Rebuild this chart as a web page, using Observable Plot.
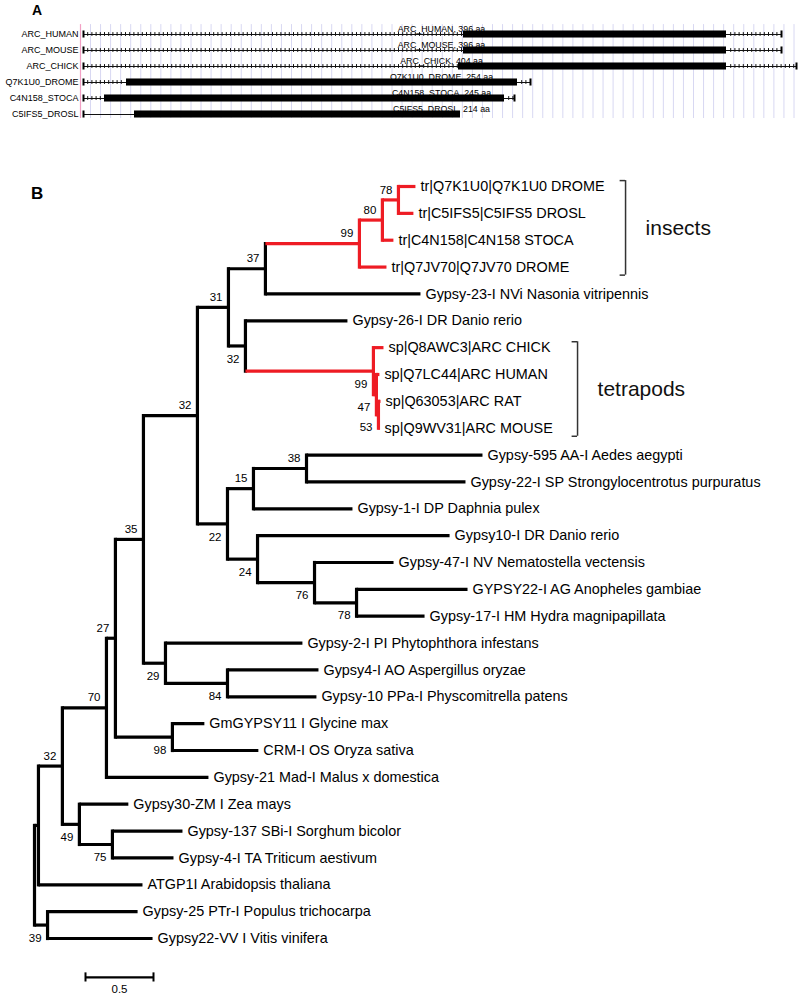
<!DOCTYPE html>
<html><head><meta charset="utf-8">
<script src="https://cdn.jsdelivr.net/npm/d3@7"></script>
<script src="https://cdn.jsdelivr.net/npm/@observablehq/plot@0.6"></script>
<style>
body{margin:0;background:#fff;}
#fig{position:relative;width:800px;height:994px;font-family:'Liberation Sans',Arial,sans-serif;background:#fff;}
#fig svg{display:block;}
.plabel{position:absolute;font-weight:bold;line-height:1;color:#000;}
</style></head><body>
<div id="fig">
<div class="plabel" style="left:32px;top:3px;font-size:14px">A</div>
<div class="plabel" style="left:31px;top:185px;font-size:17px">B</div>
</div>
<script>
// ---------- Panel A data (alignment columns) ----------
const trackNames = ["ARC_HUMAN","ARC_MOUSE","ARC_CHICK","Q7K1U0_DROME","C4N158_STOCA","C5IFS5_DROSL"];
const proteinLengths = [396,396,404,254,245,214];
const featStart = [3,3,3,3,3,3];
const cdsStart  = [383,383,378,46,24,54];
const cdsEnd    = [646,646,646,437,424,380];
const featEnd   = [701,701,716,450,434,380];
const leftHatched = [true,true,true,true,true,false];

// ---------- Panel B data (tree) ----------
const nodeId = ["root","n38","n32b","n70","n27","n35","n32a","n31","n37","n99i","n80","n78","Q7K1U0","C5IFS5","C4N158","Q7JV70","Nasonia","n32c","Danio26","n99t","CHICK","n47","HUMAN","n53","RAT","MOUSE","n22","n15","n38b","Aedes","Strongylo","Daphnia","n24","Danio10","n76","Nematostella","n78b","Anopheles","Hydra","n29","Phytophthora","n84","Aspergillus","Physcomitrella","n98","Glycine","Oryza","Malus","n49","Zea","n75","Sorghum","Triticum","ATGP1I","n39","Populus","Vitis"];
const nodeParent = [null,"root","n38","n32b","n70","n27","n35","n32a","n31","n37","n99i","n80","n78","n78","n80","n99i","n37","n31","n32c","n32c","n99t","n99t","n47","n47","n53","n53","n32a","n22","n15","n38b","n38b","n15","n22","n24","n24","n76","n76","n78b","n78b","n35","n29","n29","n84","n84","n27","n98","n98","n70","n32b","n49","n49","n75","n75","n38","root","n39","n39"];
const branchLength = [0,0.029,0.176,0.324,0.066,0.206,0.397,0.228,0.272,0.691,0.169,0.118,0.125,0.110,0.081,0.199,1.140,0.125,0.750,0.941,0.074,0.022,0.022,0.015,0.015,0.008,0.221,0.191,0.390,1.294,1.169,0.728,0.221,1.412,0.419,0.581,0.309,0.816,0.500,0.162,1.007,0.456,0.669,0.654,0.419,0.235,0.632,0.750,0.125,0.360,0.243,0.515,0.449,0.765,0.096,0.662,0.772];
const bootstrap = [null,null,32,70,27,35,32,31,37,99,80,78,null,null,null,null,null,32,null,99,null,47,null,53,null,null,22,15,38,null,null,null,24,null,76,null,78,null,null,29,null,84,null,null,98,null,null,null,49,null,75,null,null,null,39,null,null];
const leafLabels = {
  Q7K1U0:"tr|Q7K1U0|Q7K1U0 DROME", C5IFS5:"tr|C5IFS5|C5IFS5 DROSL", C4N158:"tr|C4N158|C4N158 STOCA", Q7JV70:"tr|Q7JV70|Q7JV70 DROME",
  Nasonia:"Gypsy-23-I NVi Nasonia vitripennis", Danio26:"Gypsy-26-I DR Danio rerio",
  CHICK:"sp|Q8AWC3|ARC CHICK", HUMAN:"sp|Q7LC44|ARC HUMAN", RAT:"sp|Q63053|ARC RAT", MOUSE:"sp|Q9WV31|ARC MOUSE",
  Aedes:"Gypsy-595 AA-I Aedes aegypti", Strongylo:"Gypsy-22-I SP Strongylocentrotus purpuratus", Daphnia:"Gypsy-1-I DP Daphnia pulex",
  Danio10:"Gypsy10-I DR Danio rerio", Nematostella:"Gypsy-47-I NV Nematostella vectensis", Anopheles:"GYPSY22-I AG Anopheles gambiae",
  Hydra:"Gypsy-17-I HM Hydra magnipapillata", Phytophthora:"Gypsy-2-I PI Phytophthora infestans", Aspergillus:"Gypsy4-I AO Aspergillus oryzae",
  Physcomitrella:"Gypsy-10 PPa-I Physcomitrella patens", Glycine:"GmGYPSY11 I Glycine max", Oryza:"CRM-I OS Oryza sativa",
  Malus:"Gypsy-21 Mad-I Malus x domestica", Zea:"Gypsy30-ZM I Zea mays", Sorghum:"Gypsy-137 SBi-I Sorghum bicolor",
  Triticum:"Gypsy-4-I TA Triticum aestivum", ATGP1I:"ATGP1I Arabidopsis thaliana", Populus:"Gypsy-25 PTr-I Populus trichocarpa",
  Vitis:"Gypsy22-VV I Vitis vinifera"
};
const highlightedClades = ["n99i","n99t"];
const cladeNames = ["insects","tetrapods"];
const cladeFirstLeaf = ["Q7K1U0","CHICK"];
const cladeLastLeaf = ["Q7JV70","MOUSE"];
const scaleBarLength = 0.5;

const FONT = "'Liberation Sans', Arial, sans-serif";
const RED = "#ee1c24";

// ---------- Panel A ----------
const tracks = trackNames.map((name, i) => ({
  i, name, len: proteinLengths[i], s: featStart[i], cs: cdsStart[i], ce: cdsEnd[i], e: featEnd[i], hatch: leftHatched[i],
  label: `${name}, ${proteinLengths[i]} aa`
}));
const segments = [];
const hatches = [];
for (const t of tracks) {
  segments.push({i: t.i, a: t.s, b: t.cs});
  if (t.hatch) for (const x of d3.range(t.s + 4.2, t.cs - 1, 4.2)) hatches.push({i: t.i, x});
  if (t.e > t.ce) {
    segments.push({i: t.i, a: t.ce, b: t.e});
    for (const x of d3.range(t.ce + 4.2, t.e - 1, 4.2)) hatches.push({i: t.i, x});
  }
}
const endTicks = [];
for (const t of tracks) {
  endTicks.push({i: t.i, x: t.s});
  if (t.e > t.ce) endTicks.push({i: t.i, x: t.e});
}
const gridCols = d3.range(10, 717, 10.05);

const panelA = Plot.plot({
  width: 800, height: 125,
  marginLeft: 80, marginRight: 0, marginTop: 26, marginBottom: 3,
  x: {domain: [0, 720], axis: null},
  y: {domain: [-0.5, 5.5], reverse: true, axis: null},
  style: {fontFamily: FONT, background: "white", color: "#000", overflow: "visible"},
  marks: [
    Plot.ruleX(gridCols, {x: d => d, y1: -0.62, y2: 5.25, stroke: "#d8d8f2", strokeWidth: 1, strokeOpacity: 1}),
    Plot.ruleX([0], {x: d => d, y1: -0.62, y2: 5.25, stroke: "#f2a0c4", strokeWidth: 1.2, strokeOpacity: 1}),
    Plot.ruleY(segments, {y: "i", x1: "a", x2: "b", stroke: "#111", strokeWidth: 1}),
    Plot.ruleX(hatches, {x: "x", y1: d => d.i - 0.12, y2: d => d.i + 0.12, stroke: "#111", strokeWidth: 1}),
    Plot.ruleX(endTicks, {x: "x", y1: d => d.i - 0.22, y2: d => d.i + 0.22, stroke: "#000", strokeWidth: 2}),
    Plot.rect(tracks, {x1: "cs", x2: "ce", y1: d => d.i - 0.22, y2: d => d.i + 0.22, fill: "#000"}),
    Plot.text(tracks, {y: "i", text: "label", frameAnchor: "middle", dx: 1, dy: -5, fontSize: 8.8, fill: "#000"}),
    Plot.text(tracks, {y: "i", text: "name", frameAnchor: "left", textAnchor: "end", dx: -2, fontSize: 9, fill: "#000"})
  ]
});

// ---------- Panel B: tree layout ----------
const nodes = nodeId.map((id, k) => ({id, parentId: nodeParent[k], bl: branchLength[k], boot: bootstrap[k], children: []}));
const byId = new Map(nodes.map(n => [n.id, n]));
for (const n of nodes) if (n.parentId) { n.parent = byId.get(n.parentId); n.parent.children.push(n); }
const root = nodes.find(n => !n.parentId);
let leafCounter = 0;
(function layout(n, depth, red) {
  n.x = depth + n.bl;
  n.red = red || highlightedClades.includes(n.id);
  if (n.children.length === 0) { n.y = leafCounter++; n.label = leafLabels[n.id]; }
  else {
    for (const c of n.children) layout(c, n.x, n.red);
    n.y = (n.children[0].y + n.children[n.children.length - 1].y) / 2;
    n.yMin = n.children[0].y; n.yMax = n.children[n.children.length - 1].y;
  }
})(root, 0, false);
for (const n of nodes) n.upper = n.parent ? n.parent.children[0] === n : true;

const nonRoot = nodes.filter(n => n.parent);
const internal = nodes.filter(n => n.children.length);
const leaves = nodes.filter(n => !n.children.length);
const booted = internal.filter(n => n.boot != null);

const clades = cladeNames.map((name, k) => ({name, y1: byId.get(cladeFirstLeaf[k]).y, y2: byId.get(cladeLastLeaf[k]).y}));
const bracketX = {insects: 4.346, tetrapods: 3.993};
const tickLen = 0.04;
const barY = 29.45, barX = 0.375;

const hLink = (data, color) => Plot.link(data, {x1: d => d.parent.x, x2: d => d.x, y1: "y", y2: "y", stroke: color, strokeWidth: 3.2, strokeLinecap: "butt"});
const vLink = (data, color) => Plot.link(data, {x1: "x", x2: "x", y1: "yMin", y2: "yMax", stroke: color, strokeWidth: 3.2, strokeLinecap: "square"});

const panelB = Plot.plot({
  width: 800, height: 869,
  marginLeft: 34, marginRight: 0, marginTop: 61, marginBottom: 56,
  x: {domain: [0, 766 / 136], axis: null},
  y: {domain: [0, 28], reverse: true, axis: null},
  style: {fontFamily: FONT, background: "white", color: "#000", overflow: "visible"},
  marks: [
    hLink(nonRoot.filter(n => !n.red), "#000"),
    vLink(internal.filter(n => !n.red), "#000"),
    hLink(nonRoot.filter(n => n.red), RED),
    vLink(internal.filter(n => n.red), RED),
    Plot.text(booted.filter(n => n.upper), {x: "x", y: "y", text: "boot", textAnchor: "end", dx: -6, dy: -10, fontSize: 11.5, fill: "#000"}),
    Plot.text(booted.filter(n => !n.upper), {x: "x", y: "y", text: "boot", textAnchor: "end", dx: -6, dy: 13, fontSize: 11.5, fill: "#000"}),
    Plot.text(leaves, {x: "x", y: "y", text: "label", textAnchor: "start", dx: 5, fontSize: 14.4, fill: "#000"}),
    // clade brackets
    Plot.ruleX(clades, {x: d => bracketX[d.name], y1: d => d.y1 - 0.22, y2: d => d.y2 + 0.3, stroke: "#333", strokeWidth: 1.5}),
    Plot.ruleY(clades, {y: d => d.y1 - 0.22, x1: d => bracketX[d.name] - tickLen, x2: d => bracketX[d.name], stroke: "#333", strokeWidth: 1.5}),
    Plot.ruleY(clades, {y: d => d.y2 + 0.3, x1: d => bracketX[d.name] - tickLen, x2: d => bracketX[d.name], stroke: "#333", strokeWidth: 1.5}),
    Plot.text(clades, {x: d => bracketX[d.name], y: d => (d.y1 + d.y2) / 2 + 0.05, text: "name", textAnchor: "start", dx: 20, fontSize: 21, fill: "#111"}),
    // scale bar
    Plot.ruleY([scaleBarLength], {y: barY, x1: barX, x2: d => barX + d, stroke: "#000", strokeWidth: 2.2}),
    Plot.ruleX([barX, barX + scaleBarLength], {x: d => d, y1: barY - 0.17, y2: barY + 0.17, stroke: "#000", strokeWidth: 2}),
    Plot.text([scaleBarLength], {x: d => barX + d / 2, y: barY, text: d => String(d), dy: 12, fontSize: 11.5, fill: "#000"})
  ]
});

const fig = document.getElementById("fig");
fig.appendChild(panelA);
fig.appendChild(panelB);
</script>
</body></html>
